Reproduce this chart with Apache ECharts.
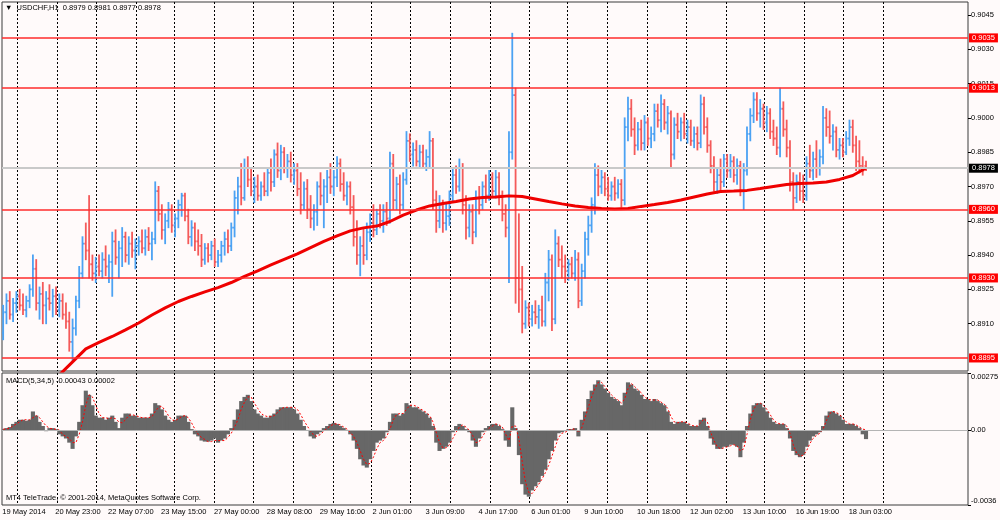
<!DOCTYPE html>
<html>
<head>
<meta charset="utf-8">
<title>USDCHF,H1</title>
<script src="https://cdn.jsdelivr.net/npm/echarts@6/dist/echarts.min.js"></script>
<style>
html, body { margin: 0; padding: 0; background: #fffafa; }
#chart { width: 1000px; height: 520px; }
</style>
</head>
<body>
<div id="chart"></div>
<script>
// 2-hour bars, 19 May 15:00 .. 18 Jun 14:00
var opens = [
  0.8906,0.8915,0.8920,0.8914,0.8919,0.8922,0.8918,0.8916,0.8920,0.8925,
  0.8934,0.8919,0.8923,0.8918,0.8921,0.8919,0.8922,0.8916,0.8920,0.8914,
  0.8911,0.8902,0.8908,0.8920,0.8932,0.8945,0.8942,0.8936,0.8932,0.8935,
  0.8933,0.8938,0.8935,0.8937,0.8946,0.8939,0.8943,0.8948,0.8940,0.8945,
  0.8942,0.8944,0.8946,0.8943,0.8948,0.8945,0.8947,0.8968,0.8958,0.8951,
  0.8955,0.8960,0.8953,0.8956,0.8962,0.8966,0.8957,0.8948,0.8952,0.8946,
  0.8944,0.8938,0.8943,0.8940,0.8944,0.8937,0.8940,0.8944,0.8947,0.8944,
  0.8952,0.8965,0.8970,0.8965,0.8978,0.8973,0.8968,0.8970,0.8966,0.8970,
  0.8968,0.8976,0.8972,0.8984,0.8977,0.8985,0.8978,0.8981,0.8975,0.8977,
  0.8969,0.8962,0.8969,0.8960,0.8956,0.8959,0.8970,0.8966,0.8970,0.8974,
  0.8970,0.8974,0.8980,0.8971,0.8966,0.8970,0.8961,0.8948,0.8940,0.8944,
  0.8940,0.8950,0.8954,0.8951,0.8958,0.8955,0.8959,0.8956,0.8980,0.8964,
  0.8971,0.8962,0.8973,0.8990,0.8984,0.8986,0.8981,0.8985,0.8980,0.8983,
  0.8990,0.8964,0.8955,0.8962,0.8954,0.8957,0.8966,0.8975,0.8970,0.8978,
  0.8962,0.8952,0.8959,0.8950,0.8965,0.8962,0.8970,0.8966,0.8974,0.8968,
  0.8974,0.8966,0.8958,0.8952,0.8985,0.9010,0.8930,0.8925,0.8910,0.8917,
  0.8912,0.8915,0.8913,0.8916,0.8911,0.8928,0.8938,0.8912,0.8945,0.8938,
  0.8935,0.8933,0.8936,0.8932,0.8938,0.8920,0.8933,0.8947,0.8953,0.8962,
  0.8975,0.8970,0.8974,0.8969,0.8966,0.8970,0.8967,0.8971,0.8964,0.8996,
  0.9004,0.8995,0.8988,0.8995,0.8989,0.8998,0.8991,0.8993,0.9003,0.8999,
  0.9006,0.8998,0.9002,0.8984,0.8997,0.8994,0.8998,0.8993,0.8996,0.8990,
  0.8993,0.8989,0.9006,0.8996,0.8988,0.8979,0.8972,0.8975,0.8972,0.8982,
  0.8977,0.8981,0.8975,0.8979,0.8968,0.8977,0.8993,0.9001,0.9008,0.9002,
  0.9004,0.8998,0.9002,0.8994,0.8991,0.8987,0.9004,0.8995,0.8987,0.8972,
  0.8965,0.8972,0.8968,0.8966,0.8980,0.8977,0.8982,0.8978,0.8983,0.9000,
  0.8996,0.8992,0.8994,0.8986,0.8988,0.8985,0.8991,0.8996,0.8988,0.8981,
  0.8979,0.8979
];
var highs = [
  0.8918,0.8923,0.8924,0.8921,0.8924,0.8925,0.8923,0.8922,0.8927,0.8940,
  0.8938,0.8926,0.8928,0.8924,0.8927,0.8925,0.8926,0.8923,0.8923,0.8919,
  0.8915,0.8912,0.8922,0.8935,0.8948,0.8954,0.8966,0.8940,0.8939,0.8940,
  0.8941,0.8944,0.8940,0.8950,0.8951,0.8946,0.8952,0.8950,0.8948,0.8950,
  0.8947,0.8948,0.8951,0.8951,0.8952,0.8950,0.8972,0.8970,0.8962,0.8958,
  0.8963,0.8962,0.8958,0.8964,0.8967,0.8967,0.8960,0.8955,0.8954,0.8951,
  0.8949,0.8945,0.8945,0.8946,0.8947,0.8942,0.8946,0.8950,0.8951,0.8954,
  0.8968,0.8974,0.8980,0.8982,0.8983,0.8978,0.8974,0.8975,0.8972,0.8976,
  0.8978,0.8982,0.8986,0.8989,0.8988,0.8987,0.8984,0.8985,0.8980,0.8980,
  0.8976,0.8972,0.8973,0.8966,0.8962,0.8972,0.8976,0.8973,0.8977,0.8980,
  0.8977,0.8983,0.8982,0.8976,0.8972,0.8972,0.8966,0.8955,0.8948,0.8952,
  0.8954,0.8958,0.8962,0.8960,0.8962,0.8962,0.8963,0.8985,0.8984,0.8974,
  0.8975,0.8976,0.8994,0.8993,0.8989,0.8990,0.8988,0.8988,0.8986,0.8994,
  0.8991,0.8968,0.8966,0.8964,0.8963,0.8968,0.8978,0.8979,0.8982,0.8980,
  0.8966,0.8962,0.8962,0.8968,0.8970,0.8972,0.8975,0.8977,0.8976,0.8977,
  0.8976,0.8968,0.8962,0.8994,0.9037,0.9013,0.8958,0.8935,0.8920,0.8919,
  0.8918,0.8920,0.8918,0.8922,0.8932,0.8942,0.8940,0.8951,0.8948,0.8944,
  0.8940,0.8938,0.8939,0.8942,0.8941,0.8936,0.8950,0.8957,0.8965,0.8980,
  0.8979,0.8977,0.8976,0.8974,0.8972,0.8974,0.8973,0.8973,0.9000,0.9009,
  0.9008,0.9000,0.8998,0.8999,0.9001,0.9000,0.8996,0.9006,0.9006,0.9010,
  0.9008,0.9005,0.9003,0.9000,0.9002,0.9000,0.9002,0.8999,0.8999,0.8996,
  0.8996,0.9010,0.9009,0.9000,0.8990,0.8983,0.8978,0.8982,0.8984,0.8984,
  0.8984,0.8983,0.8982,0.8981,0.8980,0.8996,0.9004,0.9011,0.9011,0.9008,
  0.9006,0.9005,0.9004,0.8999,0.8996,0.9013,0.9007,0.8999,0.8990,0.8976,
  0.8975,0.8976,0.8975,0.8983,0.8988,0.8985,0.8990,0.8986,0.9005,0.9004,
  0.9003,0.8997,0.8996,0.8991,0.8991,0.8994,0.8999,0.8999,0.8992,0.8990,
  0.8983,0.8981
];
var lows = [
  0.8903,0.8910,0.8912,0.8911,0.8915,0.8916,0.8914,0.8913,0.8917,0.8922,
  0.8916,0.8912,0.8910,0.8910,0.8916,0.8913,0.8914,0.8913,0.8912,0.8908,
  0.8898,0.8894,0.8905,0.8917,0.8930,0.8938,0.8930,0.8929,0.8928,0.8931,
  0.8930,0.8931,0.8928,0.8922,0.8936,0.8930,0.8935,0.8937,0.8936,0.8939,
  0.8934,0.8940,0.8941,0.8940,0.8942,0.8938,0.8945,0.8955,0.8947,0.8945,
  0.8952,0.8950,0.8948,0.8952,0.8957,0.8955,0.8945,0.8944,0.8942,0.8940,
  0.8935,0.8936,0.8937,0.8938,0.8935,0.8935,0.8937,0.8940,0.8941,0.8942,
  0.8948,0.8958,0.8962,0.8964,0.8970,0.8966,0.8963,0.8964,0.8964,0.8966,
  0.8966,0.8968,0.8970,0.8974,0.8973,0.8976,0.8974,0.8972,0.8971,0.8966,
  0.8958,0.8960,0.8956,0.8952,0.8951,0.8953,0.8962,0.8952,0.8963,0.8967,
  0.8966,0.8970,0.8968,0.8964,0.8962,0.8958,0.8944,0.8936,0.8931,0.8936,
  0.8938,0.8946,0.8948,0.8949,0.8952,0.8950,0.8953,0.8954,0.8960,0.8960,
  0.8958,0.8960,0.8971,0.8981,0.8979,0.8979,0.8978,0.8978,0.8977,0.8978,
  0.8960,0.8950,0.8952,0.8950,0.8951,0.8953,0.8963,0.8967,0.8968,0.8958,
  0.8947,0.8948,0.8945,0.8948,0.8958,0.8960,0.8963,0.8964,0.8966,0.8965,
  0.8962,0.8955,0.8948,0.8928,0.8982,0.8919,0.8915,0.8906,0.8908,0.8909,
  0.8909,0.8910,0.8908,0.8909,0.8909,0.8920,0.8907,0.8910,0.8935,0.8930,
  0.8928,0.8929,0.8930,0.8929,0.8917,0.8918,0.8930,0.8940,0.8950,0.8958,
  0.8966,0.8967,0.8966,0.8964,0.8964,0.8964,0.8965,0.8961,0.8962,0.8990,
  0.8992,0.8984,0.8986,0.8986,0.8986,0.8988,0.8987,0.8990,0.8996,0.8994,
  0.8995,0.8993,0.8978,0.8982,0.8991,0.8990,0.8991,0.8989,0.8988,0.8987,
  0.8986,0.8987,0.8993,0.8985,0.8976,0.8968,0.8967,0.8968,0.8970,0.8974,
  0.8974,0.8972,0.8971,0.8966,0.8960,0.8975,0.8990,0.8998,0.8999,0.8996,
  0.8995,0.8994,0.8991,0.8988,0.8984,0.8983,0.8992,0.8983,0.8968,0.8960,
  0.8963,0.8964,0.8963,0.8964,0.8974,0.8973,0.8974,0.8975,0.8980,0.8992,
  0.8989,0.8986,0.8983,0.8982,0.8983,0.8984,0.8988,0.8985,0.8977,0.8976,
  0.8975,0.8977
];
var closes = [
  0.8915,0.8920,0.8914,0.8919,0.8922,0.8918,0.8916,0.8920,0.8925,0.8934,
  0.8919,0.8923,0.8918,0.8921,0.8919,0.8922,0.8916,0.8920,0.8914,0.8911,
  0.8902,0.8908,0.8920,0.8932,0.8945,0.8942,0.8936,0.8932,0.8935,0.8933,
  0.8938,0.8935,0.8937,0.8946,0.8939,0.8943,0.8948,0.8940,0.8945,0.8942,
  0.8944,0.8946,0.8943,0.8948,0.8945,0.8947,0.8968,0.8958,0.8951,0.8955,
  0.8960,0.8953,0.8956,0.8962,0.8966,0.8957,0.8948,0.8952,0.8946,0.8944,
  0.8938,0.8943,0.8940,0.8944,0.8937,0.8940,0.8944,0.8947,0.8944,0.8952,
  0.8965,0.8970,0.8965,0.8978,0.8973,0.8968,0.8970,0.8966,0.8970,0.8968,
  0.8976,0.8972,0.8984,0.8977,0.8985,0.8978,0.8981,0.8975,0.8977,0.8969,
  0.8962,0.8969,0.8960,0.8956,0.8959,0.8970,0.8966,0.8970,0.8974,0.8970,
  0.8974,0.8980,0.8971,0.8966,0.8970,0.8961,0.8948,0.8940,0.8944,0.8940,
  0.8950,0.8954,0.8951,0.8958,0.8955,0.8959,0.8956,0.8980,0.8964,0.8971,
  0.8962,0.8973,0.8990,0.8984,0.8986,0.8981,0.8985,0.8980,0.8983,0.8990,
  0.8964,0.8955,0.8962,0.8954,0.8957,0.8966,0.8975,0.8970,0.8978,0.8962,
  0.8952,0.8959,0.8950,0.8965,0.8962,0.8970,0.8966,0.8974,0.8968,0.8974,
  0.8966,0.8958,0.8952,0.8985,0.9010,0.8930,0.8925,0.8910,0.8917,0.8912,
  0.8915,0.8913,0.8916,0.8911,0.8928,0.8938,0.8912,0.8945,0.8938,0.8935,
  0.8933,0.8936,0.8932,0.8938,0.8920,0.8933,0.8947,0.8953,0.8962,0.8975,
  0.8970,0.8974,0.8969,0.8966,0.8970,0.8967,0.8971,0.8964,0.8996,0.9004,
  0.8995,0.8988,0.8995,0.8989,0.8998,0.8991,0.8993,0.9003,0.8999,0.9006,
  0.8998,0.9002,0.8984,0.8997,0.8994,0.8998,0.8993,0.8996,0.8990,0.8993,
  0.8989,0.9006,0.8996,0.8988,0.8979,0.8972,0.8975,0.8972,0.8982,0.8977,
  0.8981,0.8975,0.8979,0.8968,0.8977,0.8993,0.9001,0.9008,0.9002,0.9004,
  0.8998,0.9002,0.8994,0.8991,0.8987,0.9004,0.8995,0.8987,0.8972,0.8965,
  0.8972,0.8968,0.8966,0.8980,0.8977,0.8982,0.8978,0.8983,0.9000,0.8996,
  0.8992,0.8994,0.8986,0.8988,0.8985,0.8991,0.8996,0.8988,0.8981,0.8979,
  0.8977,0.8978
];

// moving average, one reading every 4th bar (bar 1, 5, 9, ...)
var ma = [
  null,null,null,0.8880,0.88876,0.88933,0.88990,0.89018,0.89044,0.89073,
  0.89103,0.89138,0.89169,0.89197,0.89219,0.89239,0.89258,0.89280,0.89307,0.89331,
  0.89357,0.89381,0.89405,0.89433,0.89460,0.89484,0.89506,0.89519,0.89527,0.89547,
  0.89575,0.89597,0.89615,0.89626,0.89634,0.89645,0.89652,0.89654,0.89659,0.89656,
  0.89645,0.89634,0.89624,0.89615,0.89608,0.89604,0.89602,0.89604,0.89613,0.89621,
  0.89630,0.89641,0.89654,0.89667,0.89678,0.89680,0.89683,0.89691,0.89700,0.89709,
  0.89713,0.89715,0.89720,0.89731,0.89748,0.89781
];

// MACD(5,34,5) histogram and signal, one per bar
var macdHist = [
  0.00005,0.0001,0.00015,0.0003,0.0004,0.0005,0.0005,0.00045,0.0005,0.0009,
  0.0007,0.0004,0.0002,-0.00005,0.0001,0.0001,0.00005,-0.0002,-0.0003,-0.0004,
  -0.0006,-0.0009,-0.0003,0.0004,0.0012,0.0019,0.0017,0.0012,0.0007,0.0006,
  0.0006,0.0005,0.0006,0.0007,0.0004,0.0001,0.0006,0.0008,0.0008,0.0007,
  0.0007,0.0006,0.0006,0.0006,0.0006,0.0008,0.0013,0.0012,0.001,0.0007,
  0.0005,0.0004,0.0005,0.0007,0.0007,0.0007,0.0004,0.00005,-0.0002,-0.0003,
  -0.0005,-0.00055,-0.00055,-0.0005,-0.0004,-0.0006,-0.0005,-0.0004,-0.0002,0.0001,
  0.0005,0.001,0.0014,0.0016,0.0017,0.0014,0.001,0.0008,0.0007,0.0006,
  0.0006,0.0007,0.0008,0.001,0.0011,0.0011,0.0011,0.0011,0.001,0.0008,
  0.0005,0.0002,0,-0.0003,-0.0004,-0.0002,-0.0001,0.0001,0.0002,0.0003,
  0.00035,0.0003,0.0002,0.0001,0,-0.0002,-0.0005,-0.0009,-0.0014,-0.0017,
  -0.0018,-0.0014,-0.001,-0.0006,-0.0005,-0.0004,-0.0001,0.0004,0.0008,0.0008,
  0.0007,0.0008,0.0013,0.0012,0.0011,0.0011,0.001,0.0009,0.0008,0.0006,
  0.0002,-0.0006,-0.001,-0.0009,-0.0008,-0.0006,-0.0001,0.0002,0.0003,0.0002,
  0.00005,-0.0001,-0.0005,-0.0008,-0.0004,-0.0001,0.0001,0.0002,0.0003,0.0003,
  0.0002,0.00005,-0.0005,-0.0008,0.0011,0.0001,-0.0012,-0.0026,-0.0031,-0.0032,
  -0.0029,-0.0027,-0.0025,-0.0022,-0.0019,-0.0014,-0.001,-0.0005,-0.00015,-0.0001,
  -0.00005,0.00005,0.00005,0.0001,-0.0003,0.0005,0.0009,0.0015,0.0019,0.0022,
  0.0024,0.0022,0.002,0.0018,0.0016,0.0015,0.0014,0.0012,0.0018,0.0023,
  0.0022,0.002,0.0019,0.0017,0.0015,0.0015,0.0014,0.0015,0.0014,0.0013,
  0.0012,0.0009,0.0004,0.0003,0.0004,0.0004,0.0004,0.0003,0.0002,0.0002,
  0.0002,0.0005,0.0006,0.0002,-0.0004,-0.0007,-0.0009,-0.0009,-0.0008,-0.0008,
  -0.0007,-0.0007,-0.0008,-0.0013,-0.0006,0.0002,0.0008,0.0012,0.0013,0.0013,
  0.0011,0.0009,0.0006,0.0004,0.0003,0.0003,0.0003,0.0001,-0.0004,-0.001,
  -0.0012,-0.0013,-0.0012,-0.0008,-0.0005,-0.0003,-0.0002,-0.0001,0.0002,0.0007,
  0.0009,0.0009,0.0008,0.0007,0.0005,0.0003,0.0003,0.0003,0.0002,0.0001,
  -0.0002,-0.00043
];
var macdSignal = [
  0.00005,0.00005,0.0001,0.0002,0.0003,0.0004,0.0005,0.0005,0.0005,0.0006,
  0.0007,0.0006,0.0004,0.0002,0.0001,0.00005,0.00005,0,-0.0002,-0.0003,
  -0.0004,-0.0006,-0.0006,-0.0002,0.0004,0.0012,0.0017,0.0016,0.0012,0.0008,
  0.0006,0.0006,0.00055,0.0006,0.00055,0.0004,0.00035,0.0005,0.0007,0.00075,
  0.0007,0.00065,0.0006,0.0006,0.0006,0.00065,0.0009,0.0011,0.00115,0.00095,
  0.0007,0.0005,0.00045,0.00055,0.00065,0.0007,0.0006,0.00035,0.00005,-0.0002,
  -0.00035,-0.00045,-0.00055,-0.00055,-0.0005,-0.0005,-0.0005,-0.0005,-0.00035,-0.00015,
  0.00015,0.0005,0.001,0.00135,0.0016,0.0016,0.0013,0.00105,0.0008,0.0007,
  0.00065,0.00065,0.0007,0.00085,0.001,0.0011,0.0011,0.0011,0.0011,0.001,
  0.00075,0.00045,0.0002,-0.00005,-0.00025,-0.0003,-0.0002,-0.00005,0.0001,0.0002,
  0.0003,0.0003,0.00025,0.00015,0.00005,-0.0001,-0.0003,-0.0006,-0.001,-0.0014,
  -0.00165,-0.0016,-0.0013,-0.0009,-0.0006,-0.0005,-0.0003,0.00005,0.0005,0.00075,
  0.0008,0.0008,0.001,0.0012,0.0012,0.00115,0.00105,0.00095,0.00085,0.0007,
  0.0004,-0.0001,-0.0006,-0.00085,-0.00085,-0.0007,-0.0004,-0.0001,0.00015,0.00025,
  0.00015,0,-0.00025,-0.0006,-0.00055,-0.0003,-0.00005,0.0001,0.0002,0.0003,
  0.00025,0.00015,-0.0002,-0.0005,0.0002,0.0002,-0.0004,-0.0015,-0.0025,-0.003,
  -0.00305,-0.00285,-0.0026,-0.00235,-0.00205,-0.0017,-0.00125,-0.0008,-0.00035,-0.00015,
  -0.0001,0,0.00005,0.00005,-0.0001,0.0001,0.0006,0.0011,0.0016,0.002,
  0.0023,0.0023,0.0021,0.0019,0.0017,0.00155,0.00145,0.0013,0.0015,0.002,
  0.00225,0.0021,0.00195,0.0018,0.0016,0.0015,0.00145,0.00145,0.00145,0.00135,
  0.00125,0.00105,0.00065,0.0004,0.00035,0.0004,0.0004,0.00035,0.00025,0.0002,
  0.0002,0.00035,0.00055,0.0004,-0.0001,-0.0005,-0.0008,-0.0009,-0.00085,-0.0008,
  -0.00075,-0.0007,-0.00075,-0.001,-0.0009,-0.0002,0.0005,0.001,0.00125,0.0013,
  0.0012,0.001,0.00075,0.0005,0.00035,0.0003,0.0003,0.0002,-0.00015,-0.0007,
  -0.0011,-0.00125,-0.0012,-0.001,-0.00065,-0.0004,-0.00025,-0.00015,0.00005,0.00045,
  0.0008,0.0009,0.00085,0.00075,0.0006,0.0004,0.0003,0.0003,0.00025,0.00015,
  0.00005,0.00002
];

var levels = [0.9035, 0.9013, 0.8960, 0.8930, 0.8895];
var priceTicks = [0.8910, 0.8925, 0.8940, 0.8955, 0.8970, 0.8985, 0.9000, 0.9015, 0.9030, 0.9045];
var macdTicks = [-0.0036, 0, 0.00275];
var macdTickLabels = ['-0.0036', '0.00', '0.00275'];
var timeLabels = ['19 May 2014', '20 May 23:00', '22 May 07:00', '23 May 15:00', '27 May 00:00',
  '28 May 08:00', '29 May 16:00', '2 Jun 01:00', '3 Jun 09:00', '4 Jun 17:00', '6 Jun 01:00',
  '9 Jun 10:00', '10 Jun 18:00', '12 Jun 02:00', '13 Jun 10:00', '16 Jun 19:00', '18 Jun 03:00'];
// day separators, in hourly bar counts from 19 May 00:00 (weekends drop one bar)
var dayLines = [24, 48, 72, 96, 119, 143, 167, 191, 215, 238, 262, 286, 310, 334,
  357, 381, 405, 429, 453, 476, 500, 524, 548];

var FONT = 'Liberation Sans';
var UP = '#4ca2f3';
var DOWN = '#f45a5a';

// x axis counts hourly bars; each 2h bar sits in the middle of its two hours
function barPos(j) { return 15.5 + 2 * j; }

var bars = opens.map(function (o, j) { return [barPos(j), o, highs[j], lows[j], closes[j]]; });
var histData = macdHist.map(function (v, j) { return [barPos(j), v]; });
var signalData = macdSignal.map(function (v, j) { return [barPos(j), v]; });
var maData = ma.map(function (v, k) { return [barPos(4 * k + 1), v]; });
var labelPos = timeLabels.map(function (t, k) { return 15 + 32 * k; });

var last = closes.length - 1;
var header = '\u25BC  USDCHF,H1  ' + [opens[last], highs[last], lows[last], closes[last]]
  .map(function (v) { return v.toFixed(4); }).join(' ');
var macdText = 'MACD(5,34,5) ' + macdHist[last].toFixed(5) + ' ' + macdSignal[last].toFixed(5);

var chart = echarts.init(document.getElementById('chart'));

function txt(size) {
  return { fontFamily: FONT, fontSize: size, color: '#000', fontWeight: 'normal' };
}

function renderBar(params, api) {
  var s = api.value(0);
  var o = api.value(1), c = api.value(4);
  var pH = api.coord([s, api.value(2)]);
  var pL = api.coord([s, api.value(3)]);
  var pO = api.coord([s, o]);
  var pC = api.coord([s, c]);
  var w = api.size([0.9, 0])[0];
  var st = { stroke: c >= o ? UP : DOWN, lineWidth: 1.8 };
  return {
    type: 'group',
    children: [
      { type: 'line', shape: { x1: pH[0], y1: pH[1] - 0.5, x2: pL[0], y2: pL[1] + 0.5 }, style: st },
      { type: 'line', shape: { x1: pO[0] - w, y1: pO[1], x2: pO[0], y2: pO[1] }, style: st },
      { type: 'line', shape: { x1: pC[0], y1: pC[1], x2: pC[0] + w, y2: pC[1] }, style: st }
    ]
  };
}

function renderHist(params, api) {
  var s = api.value(0), v = api.value(1);
  var a = api.coord([s - 1, 0]);
  var b = api.coord([s + 1, v]);
  // overlap neighbours slightly so the histogram reads as one solid area
  return {
    type: 'rect',
    shape: { x: a[0] - 0.4, y: Math.min(a[1], b[1]), width: b[0] - a[0] + 0.8, height: Math.abs(b[1] - a[1]) },
    style: { fill: '#676767' }
  };
}

var xBase = {
  type: 'value', min: 14.8, max: 599.2,
  axisLine: { show: false },
  axisTick: { show: false, customValues: dayLines },
  splitLine: { show: true, lineStyle: { color: '#000', width: 1, type: [2, 2] } }
};

var markLabel = function (bg) {
  return {
    show: true, position: 'end', distance: 1,
    formatter: function (p) { return p.value.toFixed(4); },
    color: '#fff', backgroundColor: bg, padding: [1, 3, 0, 3], fontFamily: FONT, fontSize: 7.5
  };
};

var option = {
  animation: false,
  backgroundColor: '#fffafa',
  textStyle: { fontFamily: FONT },
  title: [
    { text: header, left: 5, top: 4, padding: 0, textStyle: txt(7.5) },
    { text: macdText, left: 6, top: 377, padding: 0, textStyle: txt(7.5) },
    { text: 'MT4 TeleTrade, \u00A9 2001-2014, MetaQuotes Software Corp.', left: 6, top: 494, padding: 0, textStyle: txt(7.5) }
  ],
  grid: [
    { left: 2, top: 2, width: 966, height: 369, show: true, borderColor: '#3a3a3a', borderWidth: 1,
      backgroundColor: 'transparent', outerBoundsMode: 'none' },
    { left: 2, top: 373, width: 966, height: 132, show: true, borderColor: '#3a3a3a', borderWidth: 1,
      backgroundColor: 'transparent', outerBoundsMode: 'none' }
  ],
  xAxis: [
    Object.assign({ gridIndex: 0, axisLabel: { show: false } }, xBase),
    Object.assign({
      gridIndex: 1,
      axisLabel: {
        show: true, customValues: labelPos, align: 'left', margin: 3,
        fontFamily: FONT, fontSize: 7.5, color: '#000',
        formatter: function (v) { return timeLabels[labelPos.indexOf(v)] || ''; }
      }
    }, xBase)
  ],
  yAxis: [
    {
      gridIndex: 0, type: 'value', position: 'right', min: 0.88893, max: 0.90507,
      axisLine: { show: false },
      axisTick: { show: true, length: 3, customValues: priceTicks, lineStyle: { color: '#000' } },
      axisLabel: { customValues: priceTicks, margin: 3, fontFamily: FONT, fontSize: 7.5, color: '#000',
        formatter: function (v) { return v.toFixed(4); } },
      splitLine: { show: false }
    },
    {
      gridIndex: 1, type: 'value', position: 'right', min: -0.0036, max: 0.00275,
      axisLine: { show: false },
      axisTick: { show: true, length: 3, customValues: macdTicks, lineStyle: { color: '#000' } },
      axisLabel: { customValues: macdTicks, margin: 3, fontFamily: FONT, fontSize: 7.5, color: '#000',
        verticalAlignMinLabel: 'bottom', verticalAlignMaxLabel: 'top',
        formatter: function (v) { return macdTickLabels[macdTicks.indexOf(v)]; } },
      splitLine: { show: false }
    }
  ],
  series: [
    {
      name: 'bid', type: 'line', xAxisIndex: 0, yAxisIndex: 0, data: [], z: 1,
      markLine: {
        silent: true, symbol: ['none', 'none'], animation: false, precision: 5,
        lineStyle: { color: '#c9c9c9', width: 2, type: 'solid' },
        label: markLabel('#000'),
        data: [{ yAxis: closes[last] }]
      }
    },
    {
      name: 'USDCHF', type: 'custom', xAxisIndex: 0, yAxisIndex: 0, z: 2, clip: true,
      renderItem: renderBar, encode: { x: 0, y: [1, 2, 3, 4] }, data: bars
    },
    {
      name: 'MA', type: 'line', xAxisIndex: 0, yAxisIndex: 0, z: 3, clip: true,
      symbol: 'none', connectNulls: false,
      lineStyle: { color: '#ef0000', width: 3 },
      data: maData
    },
    {
      name: 'levels', type: 'line', xAxisIndex: 0, yAxisIndex: 0, data: [], z: 4,
      markLine: {
        silent: true, symbol: ['none', 'none'], animation: false, precision: 5,
        lineStyle: { color: '#ff2b2b', width: 1.5, type: 'solid' },
        label: markLabel('#ff0000'),
        data: levels.map(function (v) { return { yAxis: v }; })
      }
    },
    {
      name: 'zero', type: 'line', xAxisIndex: 1, yAxisIndex: 1, data: [], z: 1,
      markLine: {
        silent: true, symbol: ['none', 'none'], animation: false, label: { show: false },
        lineStyle: { color: '#b4b4b4', width: 1, type: 'solid' },
        data: [{ yAxis: 0 }]
      }
    },
    {
      name: 'MACD', type: 'custom', xAxisIndex: 1, yAxisIndex: 1, z: 2, clip: true,
      renderItem: renderHist, encode: { x: 0, y: 1 }, data: histData
    },
    {
      name: 'Signal', type: 'line', xAxisIndex: 1, yAxisIndex: 1, z: 3,
      symbol: 'none', lineStyle: { color: '#ff0000', width: 1, type: [2, 2] },
      data: signalData
    }
  ]
};

chart.setOption(option);
</script>
</body>
</html>
